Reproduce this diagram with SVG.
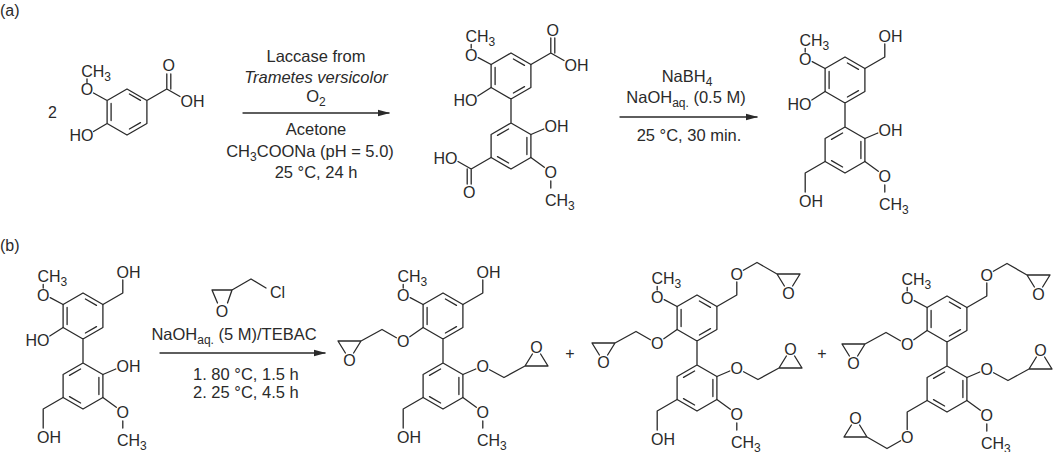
<svg xmlns="http://www.w3.org/2000/svg" xmlns:xlink="http://www.w3.org/1999/xlink" width="1054" height="452" viewBox="0 0 1054 452">
<style>
.b{stroke:#2a2a2a;stroke-width:1.3;fill:none;stroke-linecap:round;stroke-linejoin:round}
.t{font-family:"Liberation Sans",Arial,sans-serif;font-size:16px;fill:#2a2a2a}
.c{font-size:16.5px}
.m{text-anchor:middle}
.e{text-anchor:end}
.s{font-size:12px}
</style>
<defs>
<marker id="ah" markerWidth="12" markerHeight="8" refX="11" refY="4" orient="auto" markerUnits="userSpaceOnUse"><path d="M0,0.8 L12,4 L0,7.2 Z" fill="#2a2a2a"/></marker>
<g id="core">
<path class="b" d="M0,-23 L19.9,-11.5 L19.9,11.5 L0,23 L-19.9,11.5 L-19.9,-11.5 Z M-15.9,-8.5 L-15.9,8.5 M2.4,-17 L13.5,-10.6 M13.5,10.6 L2.4,17 M0,23 L0,47 M0,47 L19.9,58.5 L19.9,81.5 L0,93 L-19.9,81.5 L-19.9,58.5 Z M15.9,61.5 L15.9,78.5 M-13.5,80.6 L-2.4,87 M-13.5,59.4 L-2.4,53"/>
</g>
<g id="omeU"><path class="b" d="M-19.9,-11.5 L-32.8,-18.4 M-39.8,-28 L-39.8,-31.5"/><text class="t m" x="-39.8" y="-15.5">O</text><text class="t" x="-45.6" y="-34">CH<tspan class="s" dy="4">3</tspan></text></g>
<g id="omeL"><path class="b" d="M19.9,81.5 L33.3,91.3 M39.8,105 L39.8,112"/><text class="t m" x="39.8" y="102">O</text><text class="t" x="34" y="129.5">CH<tspan class="s" dy="4">3</tspan></text></g>
<g id="hoU"><path class="b" d="M-19.9,11.5 L-33.2,20"/><text class="t e" x="-33.6" y="30">HO</text></g>
<g id="ohL"><path class="b" d="M19.9,58.5 L32.8,53"/><text class="t" x="33.6" y="56">OH</text></g>
<g id="ch2ohU"><path class="b" d="M19.9,-11.5 L39.8,-23 L39.8,-36"/><text class="t" x="33.6" y="-38.5">OH</text></g>
<g id="ch2ohL"><path class="b" d="M-19.9,81.5 L-39.8,93 L-39.8,112"/><text class="t" x="-46" y="127">OH</text></g>
<g id="glyEU"><path class="b" d="M-19.9,11.5 L-33.2,20.7 M-46.6,21.8 L-61,13.5 L-82,25 L-105,25 M-82,25 L-89.4,37 M-105,25 L-97.6,37"/><text class="t m" x="-39.8" y="30.8">O</text><text class="t m" x="-93.5" y="49.8">O</text></g>
<g id="glyEL"><path class="b" d="M19.9,58.5 L32.8,53 M46.6,53.7 L61,61.5 L82,50 L105,50 M82,50 L89.4,38 M105,50 L97.6,38"/><text class="t m" x="39.8" y="55.8">O</text><text class="t m" x="93.5" y="36.8">O</text></g>
<g id="glyCU"><path class="b" d="M19.9,-11.5 L39.8,-23 L39.8,-36 M46.4,-47.8 L60,-55.5 L80,-44 L103,-44 M80,-44 L87.4,-32 M103,-44 L95.6,-32"/><text class="t m" x="39.8" y="-38.2">O</text><text class="t m" x="91.5" y="-19.2">O</text></g>
<g id="glyCL"><path class="b" d="M-19.9,81.5 L-39.8,93 L-39.8,110.5 M-46.4,121.7 L-60,129.5 L-80,118 L-103,118 M-80,118 L-87.4,106 M-103,118 L-95.6,106"/><text class="t m" x="-39.8" y="123.8">O</text><text class="t m" x="-91.5" y="104.8">O</text></g>
</defs>

<text class="t" x="0" y="16">(a)</text>
<text class="t" x="0" y="251">(b)</text>

<g id="vanillic">
<text class="t" x="48" y="118">2</text>
<path class="b" d="M127,89 L146.9,100.5 L146.9,123.5 L127,135 L107.1,123.5 L107.1,100.5 Z M111.1,103.5 L111.1,120.5 M129.4,94 L140.5,100.4 M140.5,122.6 L129.4,129 M107.1,100.5 L93.5,93 M87,82.5 L87,79 M107.1,123.5 L93.5,131.5 M146.9,100.5 L166.8,89 L166.8,74 M170.8,89 L170.8,74 M166.8,89 L180,96.5"/>
<text class="t m" x="87" y="95">O</text>
<text class="t" x="81.2" y="76.5">CH<tspan class="s" dy="4">3</tspan></text>
<text class="t e" x="93.4" y="141">HO</text>
<text class="t m" x="168.8" y="71">O</text>
<text class="t" x="180.6" y="106.5">OH</text>
</g>

<g id="dimerAcid" transform="translate(511,76)">
<use href="#core"/><use href="#omeU"/><use href="#omeL"/><use href="#hoU"/><use href="#ohL"/>
<path class="b" d="M19.9,-11.5 L39.8,-23 L39.8,-38 M43.8,-23 L43.8,-38 M39.8,-23 L53,-15.5 M-19.9,81.5 L-39.8,93 L-39.8,108 M-43.8,93 L-43.8,108 M-39.8,93 L-53,85.5"/>
<text class="t m" x="41.8" y="-40.5">O</text>
<text class="t" x="53.6" y="-5.5">OH</text>
<text class="t m" x="-41.8" y="121.5">O</text>
<text class="t e" x="-53.6" y="87.5">HO</text>
</g>

<g id="dimerAlcoholA" transform="translate(845,80)">
<use href="#core"/><use href="#omeU"/><use href="#omeL"/><use href="#hoU"/><use href="#ohL"/><use href="#ch2ohU"/><use href="#ch2ohL"/>
</g>

<g id="dimerAlcoholB" transform="translate(83,316)">
<use href="#core"/><use href="#omeU"/><use href="#omeL"/><use href="#hoU"/><use href="#ohL"/><use href="#ch2ohU"/><use href="#ch2ohL"/>
</g>

<g id="product1" transform="translate(443,316)">
<use href="#core"/><use href="#omeU"/><use href="#omeL"/><use href="#glyEU"/><use href="#glyEL"/><use href="#ch2ohU"/><use href="#ch2ohL"/>
</g>
<text class="t m" x="570" y="359">+</text>
<g id="product2" transform="translate(697,318)">
<use href="#core"/><use href="#omeU"/><use href="#omeL"/><use href="#glyEU"/><use href="#glyEL"/><use href="#glyCU"/><use href="#ch2ohL"/>
</g>
<text class="t m" x="822" y="359">+</text>
<g id="product3" transform="translate(947,319)">
<use href="#core"/><use href="#omeU"/><use href="#omeL"/><use href="#glyEU"/><use href="#glyEL"/><use href="#glyCU"/><use href="#glyCL"/>
</g>

<g id="connectors">
<line class="b" x1="243" y1="113" x2="389" y2="113" marker-end="url(#ah)"/>
<line class="b" x1="620" y1="117" x2="757" y2="117" marker-end="url(#ah)"/>
<line class="b" x1="160" y1="353" x2="325" y2="353" marker-end="url(#ah)"/>
</g>

<g id="cond1">
<text class="t c m" x="316" y="62">Laccase from</text>
<text class="t c m" x="316" y="83" font-style="italic">Trametes versicolor</text>
<text class="t c m" x="316" y="102">O<tspan class="s" dy="4">2</tspan></text>
<text class="t c m" x="316" y="135">Acetone</text>
<text class="t c m" x="310" y="157">CH<tspan class="s" dy="4">3</tspan><tspan dy="-4">COONa (pH = 5.0)</tspan></text>
<text class="t c m" x="316" y="178">25 °C, 24 h</text>
</g>
<g id="cond2">
<text class="t c m" x="687" y="82">NaBH<tspan class="s" dy="4">4</tspan></text>
<text class="t c m" x="686" y="103">NaOH<tspan class="s" dy="4">aq.</tspan><tspan dy="-4"> (0.5 M)</tspan></text>
<text class="t c m" x="689" y="141">25 °C, 30 min.</text>
</g>
<g id="cond3">
<path class="b" d="M212,290 L232,290 M212,290 L217.5,303 M232,290 L227.5,303 M232,290 L251,279 L266,288"/>
<text class="t m" x="222" y="317">O</text>
<text class="t" x="270" y="298">Cl</text>
<text class="t c m" x="234" y="340">NaOH<tspan class="s" dy="4">aq.</tspan><tspan dy="-4"> (5 M)/TEBAC</tspan></text>
<text class="t c" x="193" y="380">1. 80 °C, 1.5 h</text>
<text class="t c" x="193" y="398">2. 25 °C, 4.5 h</text>
</g>
</svg>
